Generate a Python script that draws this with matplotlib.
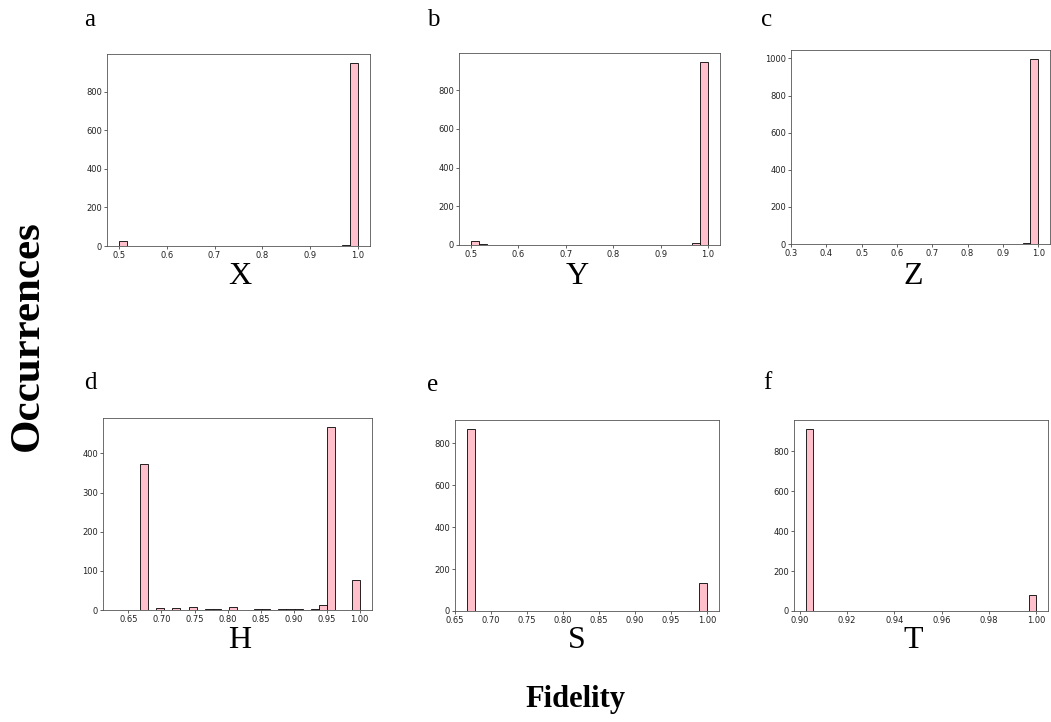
import numpy as np
import matplotlib
matplotlib.use("Agg")
import matplotlib.pyplot as plt

# ---- data (histogram counts, 30 bins each) ----
panel_letters = ["a", "b", "c", "d", "e", "f"]
gate_names = ["X", "Y", "Z", "H", "S", "T"]

range_x = (0.5, 1.0)
counts_x = [24, 2, 0, 0, 0, 0, 0, 0, 0, 0, 0, 0, 0, 0, 0, 1, 1, 0, 0, 0,
            0, 0, 1, 0, 0, 1, 0, 0, 3, 947]

range_y = (0.5, 1.0)
counts_y = [22, 3, 0, 0, 0, 0, 0, 0, 0, 0, 0, 0, 0, 0, 1, 1, 0, 1, 1, 1,
            0, 0, 1, 0, 0, 1, 0, 2, 8, 945]

range_z = (1 / 3, 1.0)
counts_z = [1, 0, 0, 0, 0, 0, 0, 0, 0, 0, 0, 0, 0, 0, 0, 0, 0, 0, 0, 0,
            0, 0, 0, 0, 0, 0, 0, 0, 3, 996]

range_h = (0.630, 1.0)
counts_h = [1, 0, 1, 372, 0, 5, 1, 5, 1, 8, 0, 2, 2, 0, 7, 1, 1, 3, 3, 1,
            2, 2, 2, 1, 3, 13, 467, 0, 0, 77]

range_s = (2 / 3, 1.0)
counts_s = [868, 0, 0, 0, 0, 0, 0, 0, 0, 0, 0, 0, 0, 0, 0, 0, 0, 0, 0, 0,
            0, 0, 0, 0, 0, 0, 0, 0, 0, 132]

range_t = (0.9025, 1.0)
counts_t = [912, 0, 0, 0, 0, 0, 0, 0, 0, 0, 0, 0, 0, 0, 0, 0, 0, 0, 0, 0,
            0, 0, 0, 0, 0, 0, 0, 0, 0, 78]

ranges = [range_x, range_y, range_z, range_h, range_s, range_t]
counts = [counts_x, counts_y, counts_z, counts_h, counts_s, counts_t]

# ---- layout (pixel boxes: left, top, right, bottom) ----
W, H = 1051, 722
boxes = [(107, 54, 370, 246), (459, 53, 720, 245), (791, 50, 1050, 244),
         (103, 418, 372, 610), (455, 420, 719, 611), (794, 420, 1048, 611)]
letter_pos = [(90, 20), (433, 20), (767, 20), (90, 383), (433, 385), (767, 383)]
name_pos = [(240, 276), (577, 276), (913, 276), (240, 641), (577, 641), (913, 641)]

fig = plt.figure(figsize=(W / 100, H / 100), dpi=100)
serif = "Liberation Serif"

for i in range(6):
    l, t, r, b = boxes[i]
    ax = fig.add_axes([l / W, 1 - b / H, (r - l) / W, (b - t) / H])
    lo, hi = ranges[i]
    edges = np.linspace(lo, hi, 31)
    centers = (edges[:-1] + edges[1:]) / 2
    ax.hist(centers, bins=edges, weights=counts[i], color="pink",
            edgecolor="black", linewidth=0.6)
    ax.tick_params(labelsize=6, length=2, width=0.5, pad=1.5,
                   colors="#222222")
    for s in ax.spines.values():
        s.set_linewidth(0.6)
        s.set_color("#555555")
    fig.text(letter_pos[i][0] / W, 1 - letter_pos[i][1] / H, panel_letters[i],
             fontsize=18, family=serif, ha="center", va="center")
    fig.text(name_pos[i][0] / W, 1 - name_pos[i][1] / H, gate_names[i],
             fontsize=23, family=serif, ha="center", va="center")

fig.text(28 / W, 1 - 336 / H, "Occurrences", rotation=90, fontsize=31,
         fontweight="bold", family=serif, ha="center", va="center")
fig.text(575 / W, 1 - 700 / H, "Fidelity", fontsize=22,
         fontweight="bold", family=serif, ha="center", va="center")

fig.savefig("out.png", dpi=100)
